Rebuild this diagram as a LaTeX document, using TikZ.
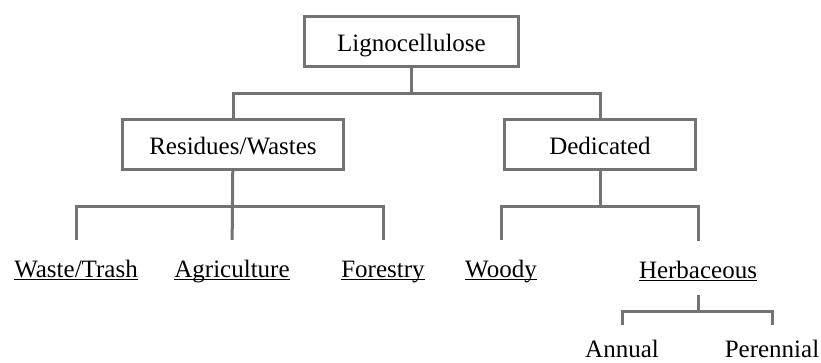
\documentclass[tikz,border=0pt]{standalone}
\usepackage{fontspec}
\setmainfont{Liberation Serif}
\usetikzlibrary{positioning}

% underlined label text
\newcommand{\ultext}[1]{\sbox0{#1}\rlap{\usebox0}\rule[-3pt]{\wd0}{1.2pt}}

\begin{document}
\begin{tikzpicture}[
    x=1pt, y=-1pt,
    font=\fontsize{25}{30}\selectfont,
    box/.style={
        draw=gray!90!black,
        line width=3pt,
        inner sep=0pt,
        text height=20pt,
        text depth=0pt,
        minimum height=50pt,
        align=center
    },
    leaf/.style={anchor=base, inner sep=2pt, text height=18pt, text depth=6pt},
    conn/.style={draw=gray!90!black, line width=3pt},
    leafline/.style={conn, shorten <=17pt, shorten >=17pt}
]

\useasboundingbox (0,0) rectangle (821,362);

% Top level
\node[box, minimum width=214pt] (ligno) at (411.5, 41.5) {Lignocellulose};

% Second level
\node[box, minimum width=221pt] (resid) at (233, 144) {Residues/Wastes};
\node[box, minimum width=191pt] (dedic) at (600, 144) {Dedicated};

% Leaves
\node[leaf] (waste) at (76, 277) {\ultext{Waste/Trash}};
\node[leaf] (agri) at (232, 277) {\ultext{Agriculture}};
\node[leaf] (forest) at (383, 277) {\ultext{Forestry}};
\node[leaf] (woody) at (501, 277) {\ultext{Woody}};
\node[leaf] (herb) at (698, 278) {\ultext{Herbaceous}};
\node[leaf, text depth=0pt] (annual) at (622, 357) {Annual};
\node[leaf, text depth=0pt] (perenn) at (772, 357) {Perennial};

% Junctions
\coordinate (j0) at (411.5, 93);
\coordinate (j1) at (233, 206);
\coordinate (j2) at (600, 206);
\coordinate (j3) at (698, 311);

% Connectors
\draw[conn] (ligno) -- (j0);
\draw[conn] (resid.north) |- (j0) -| (dedic.north);

\draw[conn, shorten >=17pt] (resid) -- (agri.north);
\draw[leafline] (waste.north) |- (j1) -| (forest.north);

\draw[conn] (dedic) -- (j2);
\draw[leafline] (woody.north) |- (j2) -| (herb.north);

\draw[conn, shorten <=9pt] (herb.south) -- (j3);
\draw[conn, shorten <=12pt, shorten >=12pt] (annual.north) |- (j3) -| (perenn.north);

\end{tikzpicture}
\end{document}
